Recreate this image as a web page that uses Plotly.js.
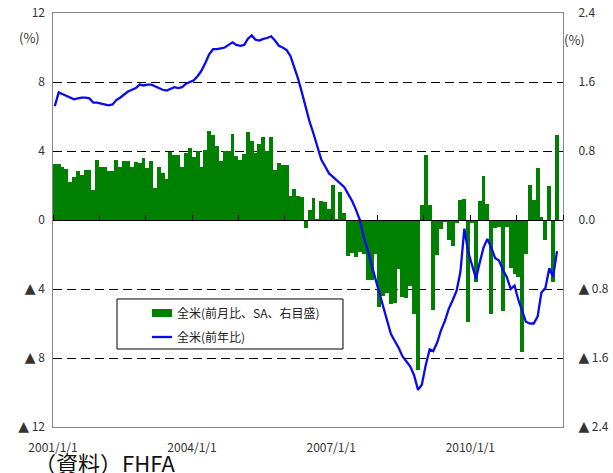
<!DOCTYPE html>
<html>
<head>
<meta charset="utf-8">
<script src="https://cdn.plot.ly/plotly-3.0.1.min.js"></script>
<style>html,body{margin:0;padding:0;background:#fff;}#chart{width:613px;height:473px;}</style>
</head>
<body>
<div id="chart"></div>
<script>
// Months: 2001/1 .. 2011/11
const startYear = 2001;
const monthCount = 131;

// 全米(前月比、SA、右目盛) — right axis, %
const mom2001 = [0.65,0.65,0.61,0.59,0.44,0.50,0.57,0.52,0.58,0.58,0.35,0.69];
const mom2002 = [0.62,0.62,0.57,0.57,0.70,0.61,0.68,0.68,0.62,0.67,0.66,0.72];
const mom2003 = [0.60,0.68,0.37,0.62,0.54,0.48,0.79,0.75,0.75,0.61,0.78,0.83];
const mom2004 = [0.73,0.80,0.62,0.81,1.03,0.99,0.86,0.68,0.80,0.80,1.00,0.74];
const mom2005 = [0.70,0.76,1.02,0.92,0.78,0.88,0.96,0.80,0.96,0.58,0.66,0.64];
const mom2006 = [0.64,0.28,0.36,0.28,0.27,-0.09,0.12,0.26,0.01,0.22,0.21,0.13];
const mom2007 = [0.41,0.01,0.33,0.08,-0.42,-0.38,-0.43,-0.37,-0.39,-0.70,-0.69,-0.39];
const mom2008 = [-1.01,-0.88,-0.85,-0.97,-0.96,-0.57,-0.89,-0.90,-0.77,-1.09,-1.74,0.17];
const mom2009 = [0.75,0.17,-1.04,-0.41,-0.11,-0.02,-0.23,-0.30,-0.04,0.23,0.24,-1.18];
const mom2010 = [-0.04,-0.72,0.22,0.51,0.19,-1.09,-0.09,-0.08,-1.06,-0.08,-0.56,-0.63];
const mom2011 = [-0.66,-1.53,-0.39,0.41,0.23,0.60,0.04,-0.23,0.39,-0.72,0.99];

// 全米(前年比) — left axis, %
const yoy2001 = [6.6,7.4,7.3,7.2,7.1,7.0,7.05,7.1,7.1,7.05,6.8,6.8];
const yoy2002 = [6.75,6.7,6.65,6.7,6.95,7.1,7.3,7.45,7.55,7.65,7.85,7.8];
const yoy2003 = [7.85,7.85,7.75,7.65,7.55,7.5,7.6,7.7,7.65,7.7,7.9,8.0];
const yoy2004 = [8.1,8.35,8.65,9.1,9.6,9.9,9.9,9.95,10.0,10.15,10.3,10.15];
const yoy2005 = [10.1,10.15,10.5,10.7,10.45,10.4,10.5,10.55,10.65,10.4,10.1,10.0];
const yoy2006 = [9.85,9.5,8.9,8.2,7.4,6.5,5.7,5.0,4.2,3.5,3.1,2.7];
const yoy2007 = [2.5,2.3,2.1,1.9,1.5,1.1,0.6,0.0,-1.0,-1.7,-2.6,-3.4];
const yoy2008 = [-4.3,-5.0,-5.9,-6.6,-7.0,-7.4,-7.9,-8.2,-8.5,-9.0,-9.85,-9.55];
const yoy2009 = [-8.4,-7.5,-7.6,-7.1,-6.4,-5.85,-5.15,-4.65,-4.1,-3.0,-0.5,-1.85];
const yoy2010 = [-2.7,-3.4,-2.5,-1.6,-1.1,-1.6,-2.2,-2.35,-2.9,-3.3,-4.0,-3.8];
const yoy2011 = [-4.65,-5.3,-5.9,-6.0,-6.0,-5.6,-4.2,-3.95,-2.8,-3.3,-1.8];

const TRI = '<span style="font-family:DejaVu Sans;font-size:14px">▲</span> ';
const leftTickVals = [-12,-8,-4,0,4,8,12];
const leftTickText = [TRI + '12', TRI + '8', TRI + '4', '0', '4', '8', '12'];
const rightTickVals = [-2.4,-1.6,-0.8,0,0.8,1.6,2.4];
const rightTickText = [TRI + '2.4', TRI + '1.6', TRI + '0.8', '0.0', '0.8', '1.6', '2.4'];
const xLabelVals = ['2001-01-01','2004-01-01','2007-01-01','2010-01-01'];
const xLabelText = ['2001/1/1','2004/1/1','2007/1/1','2010/1/1'];
const yearTickVals = ['2001-01-01','2002-01-01','2003-01-01','2004-01-01','2005-01-01','2006-01-01',
  '2007-01-01','2008-01-01','2009-01-01','2010-01-01','2011-01-01','2012-01-01'];

const momAll = [].concat(mom2001,mom2002,mom2003,mom2004,mom2005,mom2006,mom2007,mom2008,mom2009,mom2010,mom2011);
const yoyAll = [].concat(yoy2001,yoy2002,yoy2003,yoy2004,yoy2005,yoy2006,yoy2007,yoy2008,yoy2009,yoy2010,yoy2011);

const months = [];
for (let i = 0; i < monthCount; i++) {
  const y = startYear + Math.floor(i / 12);
  const m = (i % 12) + 1;
  months.push(y + '-' + (m < 10 ? '0' + m : m) + '-15');
}

const font = 'Noto Sans CJK JP, sans-serif';
const DAY = 86400000;

const traces = [
  {
    type: 'bar', x: months, y: momAll, xaxis: 'x', yaxis: 'y',
    name: '全米(前月比、SA、右目盛)',
    marker: {color: '#008000', line: {width: 0}},
    width: 31 * DAY, hoverinfo: 'skip'
  },
  {
    type: 'scatter', mode: 'lines', x: months, y: yoyAll, xaxis: 'x2', yaxis: 'y2',
    name: '全米(前年比)',
    line: {color: '#0a0af0', width: 2.3}, hoverinfo: 'skip'
  }
];

const layout = {
  width: 613, height: 473,
  margin: {l: 53, r: 50, t: 13, b: 46, pad: 0},
  paper_bgcolor: '#ffffff', plot_bgcolor: '#ffffff',
  showlegend: false, bargap: 0,
  font: {family: font, size: 12, color: '#333'},
  xaxis: {
    type: 'date', range: ['2001-01-01', '2012-01-01'],
    tickvals: xLabelVals, ticktext: xLabelText, ticks: '',
    showgrid: false, zeroline: false, showline: true, linecolor: '#888', linewidth: 1, mirror: true,
    ticklabelstandoff: 10, tickfont: {family: font, size: 12, color: '#333'}
  },
  xaxis2: {
    type: 'date', range: ['2001-01-01', '2012-01-01'], overlaying: 'x',
    anchor: 'free', position: 0.5, side: 'top',
    tickvals: yearTickVals, ticks: 'outside', ticklen: 5, tickcolor: '#000', tickwidth: 1,
    showticklabels: false, showline: true, linecolor: '#000', linewidth: 1,
    showgrid: false, zeroline: false
  },
  yaxis: {
    side: 'right', range: [-2.4, 2.4],
    tickvals: rightTickVals, ticktext: rightTickText, ticks: '',
    showgrid: true, gridcolor: '#000', gridwidth: 1, griddash: '9px,5px',
    zeroline: true, zerolinecolor: '#000', zerolinewidth: 1,
    showline: true, linecolor: '#888', linewidth: 1, mirror: true,
    ticklabelstandoff: 12, tickfont: {family: font, size: 12, color: '#333'}
  },
  yaxis2: {
    overlaying: 'y', side: 'left', anchor: 'free', position: 0,
    range: [-12, 12], tickvals: leftTickVals, ticktext: leftTickText, ticks: '',
    showgrid: false, zeroline: false, showline: false,
    ticklabelstandoff: 8, tickfont: {family: font, size: 12, color: '#333'}
  },
  shapes: [
    {type: 'rect', xref: 'paper', yref: 'paper', x0: 0.1255, x1: 0.5686, y0: 0.1884, y1: 0.3092,
     line: {color: '#000', width: 1}, fillcolor: '#ffffff', layer: 'above'},
    {type: 'rect', xref: 'paper', yref: 'paper', x0: 0.194, x1: 0.2333, y0: 0.2657, y1: 0.285,
     line: {width: 0}, fillcolor: '#008000', layer: 'above'},
    {type: 'line', xref: 'paper', yref: 'paper', x0: 0.194, x1: 0.2333, y0: 0.2174, y1: 0.2174,
     line: {color: '#0a0af0', width: 2.3}, layer: 'above'}
  ],
  annotations: [
    {xref: 'paper', yref: 'paper', x: 0.2392, y: 0.2754, xanchor: 'left', yanchor: 'middle',
     text: '全米(前月比、SA、右目盛)', showarrow: false, font: {family: font, size: 12, color: '#222'}},
    {xref: 'paper', yref: 'paper', x: 0.2392, y: 0.2174, xanchor: 'left', yanchor: 'middle',
     text: '全米(前年比)', showarrow: false, font: {family: font, size: 12, color: '#222'}},
    {xref: 'paper', yref: 'paper', x: -0.046, y: 0.942, xanchor: 'center', yanchor: 'middle',
     text: '(%)', showarrow: false, font: {family: font, size: 13, color: '#333'}},
    {xref: 'paper', yref: 'paper', x: 1.0235, y: 0.935, xanchor: 'center', yanchor: 'middle',
     text: '(%)', showarrow: false, font: {family: font, size: 13, color: '#333'}},
    {xref: 'paper', yref: 'paper', x: -0.041, y: -0.0845, xanchor: 'left', yanchor: 'middle',
     text: '（資料）FHFA', showarrow: false, font: {family: font, size: 22, color: '#111'}}
  ]
};

Plotly.newPlot('chart', traces, layout, {staticPlot: true, displayModeBar: false});
</script>
</body>
</html>
